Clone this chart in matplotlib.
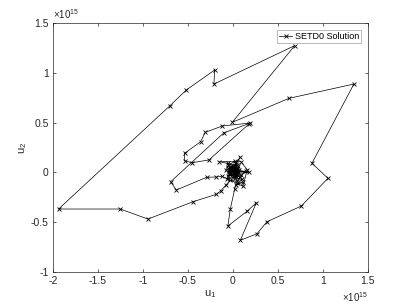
import matplotlib

matplotlib.use("Agg")
import matplotlib.pyplot as plt
from matplotlib.ticker import MultipleLocator, ScalarFormatter

# Values, in units of 1e15
SCALE = 1e15

# dense part near the origin (start of the run)
cluster_a_u1 = [0.01, -0.02, 0.03, -0.01, 0.04, -0.04, 0.02, -0.03, 0.05, 0.00,
                -0.05, 0.03, 0.08, 0.01, -0.06, -0.02, 0.06, 0.18, 0.07, 0.02,
                0.10, 0.05, 0.11, 0.03]
cluster_a_u2 = [0.00, 0.03, 0.02, -0.03, -0.02, 0.01, 0.05, -0.01, 0.03, -0.04,
                0.04, 0.08, 0.15, 0.06, 0.09, 0.01, -0.01, 0.00, 0.02, -0.06,
                -0.07, -0.11, -0.10, -0.13]

# first excursion: down, right, up and round the outside
loop_u1 = [0.019, -0.029, -0.056, 0.160, 0.260, 0.082, 0.267, 0.378, 0.760,
           1.056, 0.878, 1.344, 0.622, -0.007, 0.686, -0.211, -0.203, -0.518,
           -0.703, -1.937, -1.251, -0.944, -0.444, -0.184, -0.137]
loop_u2 = [-0.171, -0.369, -0.540, -0.389, -0.306, -0.684, -0.618, -0.497,
           -0.339, -0.060, 0.091, 0.888, 0.744, 0.503, 1.274, 0.888, 1.029,
           0.828, 0.667, -0.369, -0.369, -0.470, -0.296, -0.221, -0.188]

# back into the dense part
cluster_b_u1 = [-0.08, -0.03, 0.04, 0.08, 0.02, -0.06, -0.03, 0.04, 0.00, -0.04,
                0.03, 0.06, 0.02, -0.05, -0.08, -0.02, 0.05, 0.14, 0.09, 0.01,
                -0.07, 0.02, -0.01, 0.03, -0.03, 0.01, 0.05, -0.02, 0.00, 0.04,
                -0.15, 0.09, 0.16, 0.11, -0.12]
cluster_b_u2 = [-0.13, -0.08, -0.09, -0.05, -0.02, -0.04, 0.05, 0.04, 0.02, -0.02,
                -0.04, 0.06, 0.11, 0.07, 0.02, -0.01, 0.01, 0.01, -0.03, -0.05,
                -0.07, 0.03, 0.01, 0.00, 0.02, 0.04, 0.02, 0.05, 0.01, 0.07,
                0.107, 0.107, 0.025, -0.14, -0.04]

# second, smaller excursion to the upper left
tail_u1 = [-0.184, -0.292, -0.629, -0.692, -0.103, 0.193, -0.118, -0.307,
           -0.359, -0.537, -0.537, -0.456, -0.267, 0.178]
tail_u2 = [-0.047, -0.050, -0.178, -0.095, 0.396, 0.496, 0.466, 0.402, 0.308,
           0.191, 0.117, 0.097, 0.124, 0.486]

u1 = [v * SCALE for v in cluster_a_u1 + loop_u1 + cluster_b_u1 + tail_u1]
u2 = [v * SCALE for v in cluster_a_u2 + loop_u2 + cluster_b_u2 + tail_u2]

AXIS_COLOR = "#262626"


class ShortFormatter(ScalarFormatter):
    # tick labels as 1, 0.5, -1 instead of 1.0, 0.5, -1.0
    def _set_format(self):
        self.format = "%g"


plt.rcParams["font.family"] = "Liberation Sans"
plt.rcParams["mathtext.fontset"] = "custom"
plt.rcParams["mathtext.rm"] = "Liberation Sans"
plt.rcParams["mathtext.it"] = "Liberation Sans"
plt.rcParams["mathtext.default"] = "regular"
plt.rcParams["axes.unicode_minus"] = False

fig = plt.figure(figsize=(4.07, 3.05), dpi=100)
ax = fig.add_axes([0.13, 0.109, 0.774, 0.815])

ax.plot(u1, u2, "-x", color="black", linewidth=0.5, markersize=3.5,
        markeredgewidth=0.6, label="SETD0 Solution")

ax.set_xlim(-2 * SCALE, 1.5 * SCALE)
ax.set_ylim(-1 * SCALE, 1.5 * SCALE)
ax.xaxis.set_major_locator(MultipleLocator(0.5 * SCALE))
ax.yaxis.set_major_locator(MultipleLocator(0.5 * SCALE))

for axis in (ax.xaxis, ax.yaxis):
    fmt = ShortFormatter(useMathText=True)
    fmt.set_powerlimits((0, 0))
    axis.set_major_formatter(fmt)
    axis.get_offset_text().set_fontsize(7)
    axis.get_offset_text().set_color(AXIS_COLOR)

ax.tick_params(direction="in", length=2.5, width=0.5, top=True, right=True,
               labelsize=7.5, colors=AXIS_COLOR, pad=3)
for spine in ax.spines.values():
    spine.set_linewidth(0.5)
    spine.set_color(AXIS_COLOR)

ax.set_xlabel("u$_1$", fontsize=8, color=AXIS_COLOR, labelpad=2)
ax.set_ylabel("u$_2$", fontsize=8, color=AXIS_COLOR, labelpad=1)

leg = ax.legend(loc="upper right", fontsize=6.5, fancybox=False, framealpha=1,
                edgecolor="#a0a0a0", borderaxespad=0.75, handlelength=1.4,
                handletextpad=0.3, borderpad=0.25)
leg.get_frame().set_linewidth(0.5)

fig.savefig("out.png", dpi=100)
